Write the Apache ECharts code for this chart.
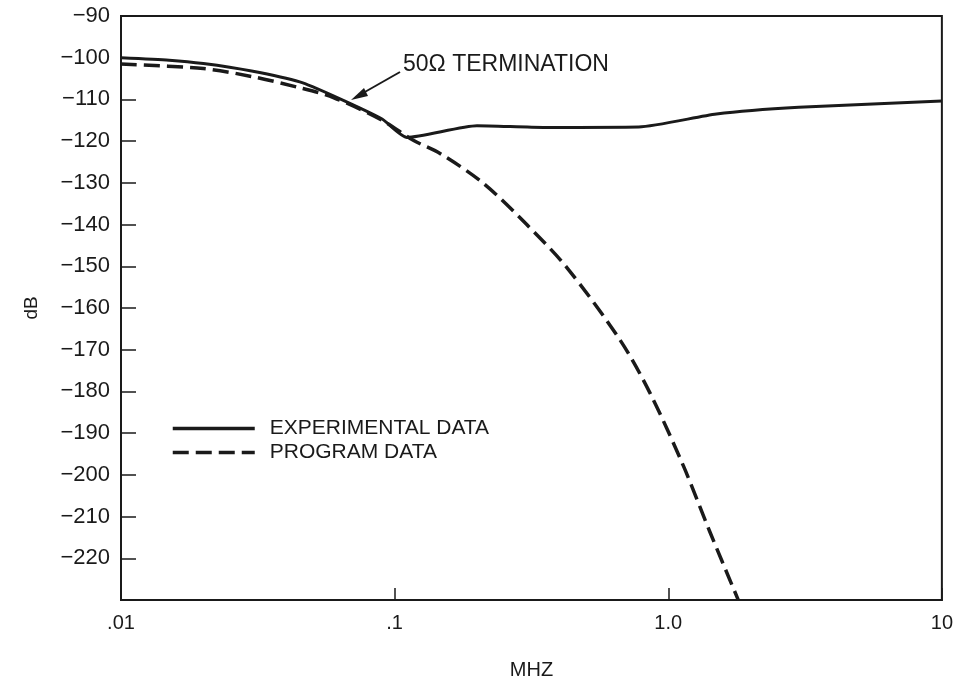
<!DOCTYPE html>
<html>
<head>
<meta charset="utf-8">
<script src="https://cdn.jsdelivr.net/npm/echarts@6/dist/echarts.min.js"></script>
<style>html,body{margin:0;padding:0;background:#fff}#c{width:956px;height:685px}</style>
</head>
<body>
<div id="c"></div>
<script>
// Data
var expFreq = [0.01, 0.015, 0.02, 0.03, 0.045, 0.06, 0.09, 0.111, 0.2, 0.35, 0.78, 1.5, 3.0, 10];
var expDb   = [-100, -100.6, -101.4, -103.2, -105.8, -109.2, -114.7, -119.1, -116.3, -116.7, -116.6, -113.5, -111.9, -110.4];
var progFreq = [0.01, 0.02, 0.03, 0.045, 0.06, 0.09, 0.117, 0.147, 0.211, 0.304, 0.426, 0.667, 0.858, 1.135, 1.42, 1.80];
var progDb   = [-101.5, -102.6, -104.5, -107.2, -109.6, -115, -119.8, -123, -130.1, -140, -150.3, -167.7, -180.4, -197.8, -213.7, -229.9];
var xTickLabels = {'-2': '.01', '-1': '.1', '0': '1.0', '1': '10'};
var seriesNames = ['EXPERIMENTAL DATA', 'PROGRAM DATA'];
var annotationText = '50\u03A9 TERMINATION';

function pairs(xs, ys) { return xs.map(function (x, i) { return [x, ys[i]]; }); }

var FONT = 'Liberation Sans';
var INK = '#1a1a1a';
var chart = echarts.init(document.getElementById('c'), null, {renderer: 'canvas'});
chart.setOption({
  animation: false,
  backgroundColor: '#fff',
  grid: {left: 121, right: 14, top: 16, bottom: 80, show: true, borderColor: INK, borderWidth: 2, backgroundColor: 'transparent'},
  legend: {
    orient: 'vertical', left: 166, top: 413, itemWidth: 82, itemHeight: 14, itemGap: 3,
    itemStyle: {opacity: 0},
    lineStyle: {width: 3.5},
    textStyle: {fontFamily: FONT, fontSize: 21, color: INK, padding: [0, 0, 0, 10]},
    data: seriesNames
  },
  xAxis: {
    type: 'log', logBase: 10, min: 0.01, max: 10,
    name: 'MHZ', nameLocation: 'middle', nameGap: 60,
    nameTextStyle: {fontFamily: FONT, fontSize: 20, color: INK},
    axisLine: {lineStyle: {color: INK, width: 2}},
    axisTick: {inside: true, length: 12, lineStyle: {color: INK, width: 1.5}},
    minorTick: {show: false},
    splitLine: {show: false},
    axisLabel: {
      fontFamily: FONT, fontSize: 20, color: INK, margin: 13,
      formatter: function (v) { var k = String(Math.round(Math.log10(v))); return xTickLabels[k] || ''; }
    }
  },
  yAxis: {
    type: 'value', min: -230, max: -90, interval: 10,
    name: 'dB', nameLocation: 'middle', nameGap: 80, nameRotate: 90,
    nameTextStyle: {fontFamily: FONT, fontSize: 19, color: INK},
    axisLine: {lineStyle: {color: INK, width: 2}},
    axisTick: {inside: true, length: 15, lineStyle: {color: INK, width: 1.5}},
    splitLine: {show: false},
    axisLabel: {
      fontFamily: FONT, fontSize: 22, color: INK, margin: 11,
      formatter: function (v) { return v === -230 ? '' : '\u2212' + Math.abs(v); }
    }
  },
  series: [
    {
      name: seriesNames[0], type: 'line', data: pairs(expFreq, expDb), symbol: 'none', smooth: 0.2,
      lineStyle: {color: INK, width: 3}, itemStyle: {color: INK}
    },
    {
      name: seriesNames[1], type: 'line', data: pairs(progFreq, progDb), symbol: 'none', smooth: 0.3,
      lineStyle: {color: INK, width: 3.5, type: [16, 7]}, itemStyle: {color: INK}
    }
  ],
  graphic: [
    {type: 'text', left: 403, top: 53, style: {text: annotationText, font: '23px "Liberation Sans"', fill: INK}},
    {type: 'line', shape: {x1: 400, y1: 72, x2: 356, y2: 97}, style: {stroke: INK, lineWidth: 2}},
    {type: 'polygon', shape: {points: [[351, 100], [364, 88], [368, 96]]}, style: {fill: INK}}
  ]
});
</script>
</body>
</html>
